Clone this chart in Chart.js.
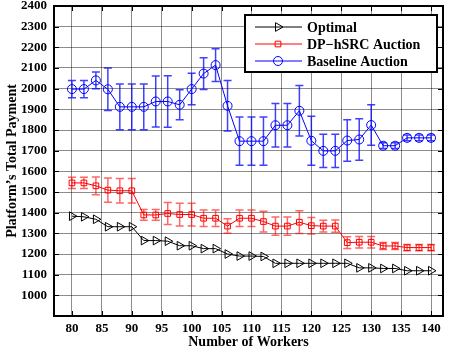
<!DOCTYPE html>
<html>
<head>
<meta charset="utf-8">
<script src="https://cdn.jsdelivr.net/npm/chart.js@4"></script>
<style>
html, body { margin: 0; padding: 0; background: #fff; }
#wrap { width: 449px; height: 356px; }
</style>
</head>
<body>
<div id="wrap"><canvas id="payChart" width="449" height="356"></canvas></div>
<script>
const workers = [80, 82, 84, 86, 88, 90, 92, 94, 96, 98, 100, 102, 104, 106, 108, 110,
                 112, 114, 116, 118, 120, 122, 124, 126, 128, 130, 132, 134, 136, 138, 140];

const optimal = [1383, 1380, 1368, 1332, 1332, 1332, 1265, 1265, 1262, 1240, 1240, 1226, 1226, 1200, 1190, 1190,
                 1188, 1155, 1155, 1155, 1155, 1155, 1155, 1155, 1133, 1133, 1130, 1130, 1119, 1119, 1119];

const dpHsrc = [1544, 1544, 1530, 1509, 1506, 1506, 1389, 1389, 1396, 1391, 1391, 1373, 1373, 1335, 1373, 1373,
                1357, 1335, 1335, 1354, 1337, 1335, 1335, 1255, 1257, 1257, 1239, 1239, 1231, 1231, 1231];
const dpHsrcErr = [27, 27, 43, 59, 59, 59, 26, 26, 53, 55, 55, 40, 40, 35, 40, 40,
                   50, 44, 44, 55, 40, 28, 30, 28, 28, 28, 17, 17, 15, 15, 15];

const baseline = [1998, 1998, 2040, 1997, 1912, 1912, 1912, 1938, 1938, 1922, 1998, 2073, 2114, 1917, 1746, 1746,
                  1746, 1823, 1823, 1893, 1748, 1699, 1699, 1749, 1754, 1824, 1724, 1724, 1762, 1762, 1762];
const baselineErr = [42, 42, 41, 103, 111, 111, 111, 123, 125, 73, 76, 77, 79, 122, 117, 117,
                     117, 105, 105, 122, 119, 80, 80, 100, 100, 98, 14, 14, 14, 14, 14];

const xTicks = [80, 85, 90, 95, 100, 105, 110, 115, 120, 125, 130, 135, 140];
const yTicks = [1000, 1100, 1200, 1300, 1400, 1500, 1600, 1700, 1800, 1900, 2000, 2100, 2200, 2300, 2400];

const FONT = "'Liberation Serif', 'Times New Roman', serif";

function toPoints(vals) {
    return workers.map((w, i) => ({ x: w, y: vals[i] }));
}

// vertical error bars with caps
const errorBars = {
    id: "errorBars",
    beforeDatasetsDraw(chart) {
        const { ctx, scales: { x, y } } = chart;
        chart.data.datasets.forEach(ds => {
            if (!ds.errors) return;
            ctx.save();
            ctx.strokeStyle = ds.errorColor;
            ctx.lineWidth = 1.5;
            ds.data.forEach((p, i) => {
                const px = x.getPixelForValue(p.x);
                const top = y.getPixelForValue(p.y + ds.errors[i]);
                const bot = y.getPixelForValue(p.y - ds.errors[i]);
                ctx.beginPath();
                ctx.moveTo(px, top); ctx.lineTo(px, bot);
                ctx.moveTo(px - 4, top); ctx.lineTo(px + 4, top);
                ctx.moveTo(px - 4, bot); ctx.lineTo(px + 4, bot);
                ctx.stroke();
            });
            ctx.restore();
        });
    }
};

// box around the plot with inward ticks
const frame = {
    id: "frame",
    afterDraw(chart) {
        const { ctx, chartArea: a, scales: { x, y } } = chart;
        ctx.save();
        ctx.strokeStyle = "#000";
        ctx.lineWidth = 1;
        ctx.beginPath();
        x.ticks.forEach(t => {
            const px = Math.round(x.getPixelForValue(t.value)) + 0.5;
            ctx.moveTo(px, a.bottom); ctx.lineTo(px, a.bottom - 5);
            ctx.moveTo(px, a.top); ctx.lineTo(px, a.top + 5);
        });
        y.ticks.forEach(t => {
            const py = Math.round(y.getPixelForValue(t.value)) + 0.5;
            ctx.moveTo(a.left, py); ctx.lineTo(a.left + 5, py);
            ctx.moveTo(a.right, py); ctx.lineTo(a.right - 5, py);
        });
        ctx.stroke();
        ctx.lineWidth = 2;
        ctx.strokeRect(a.left, a.top, a.right - a.left, a.bottom - a.top);
        ctx.restore();
    }
};

function drawMarker(ctx, style, cx, cy, r) {
    ctx.beginPath();
    if (style === "circle") {
        ctx.arc(cx, cy, r, 0, Math.PI * 2);
    } else if (style === "rect") {
        const s = r * Math.SQRT1_2;
        ctx.rect(cx - s, cy - s, 2 * s, 2 * s);
    } else {
        ctx.moveTo(cx + r, cy);
        ctx.lineTo(cx - r * 0.5, cy - r * 0.866);
        ctx.lineTo(cx - r * 0.5, cy + r * 0.866);
        ctx.closePath();
    }
    ctx.stroke();
}

// legend box in the upper right of the plot
const boxLegend = {
    id: "boxLegend",
    afterDraw(chart) {
        const ctx = chart.ctx;
        const bx = 245, by = 15, bw = 192, bh = 57;
        ctx.save();
        ctx.fillStyle = "#fff";
        ctx.fillRect(bx, by, bw, bh);
        ctx.strokeStyle = "#000";
        ctx.lineWidth = 2;
        ctx.strokeRect(bx, by, bw, bh);
        chart.data.datasets.forEach((ds, i) => {
            const ly = by + 12 + i * 17;
            ctx.strokeStyle = ds.borderColor;
            ctx.lineWidth = 1;
            ctx.beginPath();
            ctx.moveTo(bx + 10, ly); ctx.lineTo(bx + 57, ly);
            ctx.stroke();
            drawMarker(ctx, ds.pointStyle, bx + 33, ly, ds.pointRadius);
            ctx.fillStyle = "#000";
            ctx.font = "bold 14px " + FONT;
            ctx.textBaseline = "middle";
            ctx.fillText(ds.label, bx + 62, ly + 1);
        });
        ctx.restore();
    }
};

const ctx = document.getElementById("payChart").getContext("2d");

new Chart(ctx, {
    type: "line",
    data: {
        datasets: [
            {
                label: "Optimal",
                data: toPoints(optimal),
                borderColor: "#000",
                borderWidth: 1,
                pointStyle: "triangle",
                rotation: 90,
                pointRadius: 5,
                pointBorderWidth: 1,
                pointBackgroundColor: "rgba(0,0,0,0)",
                tension: 0
            },
            {
                label: "DP\u2212hSRC Auction",
                data: toPoints(dpHsrc),
                errors: dpHsrcErr,
                errorColor: "rgba(255,0,0,0.6)",
                borderColor: "#ff0000",
                borderWidth: 1,
                pointStyle: "rect",
                pointRadius: 4,
                pointBorderWidth: 1,
                pointBackgroundColor: "rgba(0,0,0,0)",
                tension: 0
            },
            {
                label: "Baseline Auction",
                data: toPoints(baseline),
                errors: baselineErr,
                errorColor: "rgba(0,0,255,0.75)",
                borderColor: "#0000ff",
                borderWidth: 1,
                pointStyle: "circle",
                pointRadius: 4.5,
                pointBorderWidth: 1,
                pointBackgroundColor: "rgba(0,0,0,0)",
                tension: 0
            }
        ]
    },
    options: {
        responsive: false,
        animation: false,
        layout: { padding: { top: 3, right: 2, left: 0, bottom: 0 } },
        plugins: {
            legend: { display: false },
            tooltip: { enabled: false }
        },
        scales: {
            x: {
                type: "linear",
                min: 77,
                max: 142,
                afterBuildTicks: s => { s.ticks = xTicks.map(v => ({ value: v })); },
                afterFit: s => { s.height = 40; s.paddingLeft = 0; s.paddingRight = 0; },
                grid: { color: "rgba(0,0,0,0.45)", borderDash: [1, 3], drawTicks: false },
                border: { display: false },
                ticks: { color: "#000", padding: 5, maxRotation: 0, autoSkip: false,
                         callback: v => String(v),
                         font: { family: FONT, size: 13, weight: "bold" } },
                title: { display: true, text: "Number of Workers", color: "#000",
                         padding: { top: 0, bottom: 5 },
                         font: { family: FONT, size: 14, weight: "bold" } }
            },
            y: {
                min: 900,
                max: 2400,
                afterBuildTicks: s => { s.ticks = yTicks.map(v => ({ value: v })); },
                afterFit: s => { s.width = 54; s.paddingTop = 0; s.paddingBottom = 0; },
                grid: { color: "rgba(0,0,0,0.45)", borderDash: [1, 3], drawTicks: false },
                border: { display: false },
                ticks: { color: "#000", padding: 7, autoSkip: false,
                         callback: v => String(v),
                         font: { family: FONT, size: 13, weight: "bold" } },
                title: { display: true, text: "Platform\u2019s Total Payment", color: "#000",
                         padding: { top: 4, bottom: 0 },
                         font: { family: FONT, size: 14, weight: "bold" } }
            }
        }
    },
    plugins: [errorBars, frame, boxLegend]
});
</script>
</body>
</html>
